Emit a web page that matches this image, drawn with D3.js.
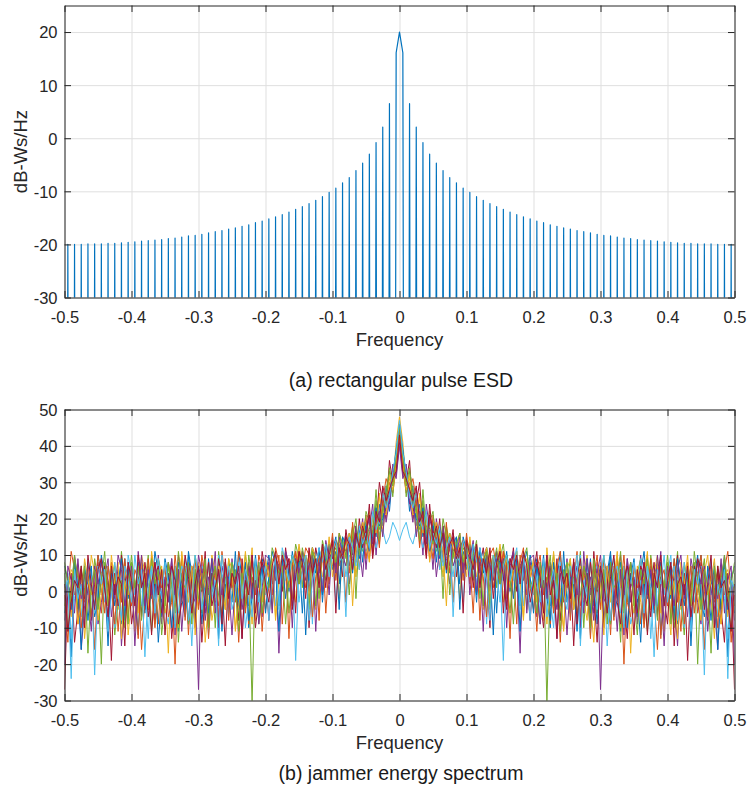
<!DOCTYPE html>
<html>
<head>
<meta charset="utf-8">
<script src="https://cdn.jsdelivr.net/npm/d3@7"></script>
<style>
  body { margin: 0; background: #fff; }
  svg { display: block; font-family: "Liberation Sans", Arial, Helvetica, sans-serif; }
</style>
</head>
<body>
<svg id="chart" width="748" height="790"></svg>
<script>
'use strict';

// Ticks
var xTicks = [-0.5, -0.4, -0.3, -0.2, -0.1, 0, 0.1, 0.2, 0.3, 0.4, 0.5];
var xTickLabels = ['-0.5', '-0.4', '-0.3', '-0.2', '-0.1', '0', '0.1', '0.2', '0.3', '0.4', '0.5'];
var esdTicks = [-30, -20, -10, 0, 10, 20];
var esdTickLabels = ['-30', '-20', '-10', '0', '10', '20'];
var jamTicks = [-30, -20, -10, 0, 10, 20, 30, 40, 50];
var jamTickLabels = ['-30', '-20', '-10', '0', '10', '20', '30', '40', '50'];

// Bins are k/200, k = 0..100 (one side, spectrum is symmetric)
// Rectangular pulse ESD, dB (nulls fall far below the axis)
var esdDb = [
  20.0, 16.1, -300, 6.5, -300, 2.1, -300, -0.8, -300, -3.0,
  -300, -4.7, -300, -6.1, -300, -7.4, -300, -8.4, -300, -9.4,
  -300, -10.2, -300, -11.0, -300, -11.7, -300, -12.3, -300, -12.9,
  -300, -13.4, -300, -13.9, -300, -14.4, -300, -14.8, -300, -15.2,
  -300, -15.6, -300, -15.9, -300, -16.3, -300, -16.6, -300, -16.9,
  -300, -17.1, -300, -17.4, -300, -17.6, -300, -17.8, -300, -18.1,
  -300, -18.3, -300, -18.4, -300, -18.6, -300, -18.8, -300, -18.9,
  -300, -19.1, -300, -19.2, -300, -19.3, -300, -19.4, -300, -19.5,
  -300, -19.6, -300, -19.7, -300, -19.8, -300, -19.8, -300, -19.9,
  -300, -19.9, -300, -19.9, -300, -20.0, -300, -20.0, -300, -20.0,
  -300
];

// Jammer energy spectra, dB
var jam01 = [45,37,33,22,29,18,24,15,21,12, 19,8,17,14,5,16,10,13,2,15, 11,6,13,-1,10,8,12,3,9,-6, 10,5,11,0,7,9,-4,8,4,10,
  4,9,-3,6,1,-10,7,3,11,-2, 5,-6,8,2,-13,6,0,9,-4,3, 7,-8,2,10,-3,5,-11,6,1,8, 3,-7,5,11,0,-5,4,8,-12,2, 6,-2,9,-9,4,1,7,-15,3,5, 10,-4,2,-8,6,3,-1,8,-18,4, -6];
var jam02 = [43,34,27,30,20,26,13,23,17,9, 21,15,6,18,11,14,-3,12,16,7, 13,2,10,12,-8,9,6,11,1,8, 4,11,-2,9,6,-9,10,3,7,1,
  -5,6,10,-1,4,-9,7,2,-14,5, 8,-3,3,11,-7,5,1,-10,6,2, -4,9,4,-12,7,0,5,-20,3,8, -2,6,-9,4,10,-5,3,7,-13,1, 5,-7,9,2,-11,4,8,-1,6,-6, 3,-16,5,7,-3,2,-9,6,11,-1, 2];
var jam03 = [48,41,29,31,25,16,27,20,11,22, 15,19,13,4,17,12,15,9,-2,14, 7,12,9,4,11,-5,8,10,6,2, 12,-3,8,5,11,2,7,-7,9,4,
  9,-2,5,-8,12,3,-5,7,1,-11, 6,-4,8,2,-9,5,10,-3,-14,4, 8,-1,-6,6,3,11,-10,4,7,-17, 2,6,-3,-9,9,1,5,10,-6,3, -2,-12,7,4,-5,8,3,-8,1,9, -4,5,10,-2,-13,6,2,8,-7,4, 6];
var jam04 = [41,32,35,25,19,28,21,10,24,17, 6,20,14,17,9,2,16,11,13,6, 15,-1,10,13,5,9,12,0,8,11, 3,9,-10,7,10,5,-17,9,2,8,
  3,-7,8,1,10,-4,6,-13,5,-1, 9,-5,2,7,-10,11,0,4,-6,8, -27,3,7,-9,5,-2,6,-12,9,1, 4,-3,10,-8,2,7,-5,3,11,-10, 2,8,-2,-15,6,1,-7,9,4,-3, -9,5,0,8,-4,-16,3,10,-1,2, -8];
var jam05 = [44,38,26,33,28,21,17,25,14,19, 22,11,16,-2,18,13,9,15,7,12, 10,14,3,11,8,-4,12,6,10,1, 9,13,4,-6,8,11,2,10,-5,7,
  7,-2,-9,8,-31,4,10,-3,-8,6, 2,9,-5,3,11,-10,5,-1,7,-6, 3,10,-2,-9,6,1,-14,7,-3,8, -4,5,9,-1,-11,10,2,-6,4,1, 8,-9,2,11,-3,-12,6,1,8,-20, 3,9,-7,4,-2,7,-5,10,1,-11, 5];
var jam06 = [14,17,19,15,13,17,16,12,15,14, 11,13,6,12,8,10,4,14,9,-3, 12,7,10,2,9,11,-9,8,5,10, 6,-19,9,7,3,10,5,-4,8,2,
  -1,6,-8,4,9,-2,-10,6,-3,3, 8,-7,1,5,10,-4,2,-12,5,7, -3,4,-15,2,9,-1,-6,7,3,-9, -5,2,9,-2,6,-13,3,-4,8,-1, 5,10,-6,4,-1,-10,2,7,-3,5, 2,-23,6,-1,8,-7,4,-2,-13,5, -4];
var jam07 = [42,35,30,36,22,24,30,18,9,21, 17,12,20,8,15,11,17,4,12,14, 9,13,1,11,7,12,5,-10,9,6, 11,-6,8,4,12,0,7,9,3,-8,
  5,11,-2,-10,3,7,-4,9,-8,4, 1,6,-15,3,9,-3,5,-9,11,0, 6,-10,2,8,-5,3,10,-3,-13,5, 2,-6,7,4,-12,1,8,-7,4,-2, -9,7,2,10,-4,5,-19,3,7,-1, 8,2,-8,4,-2,6,-5,-14,5,1, -27];
var jam08 = [46,39,32,27,24,20,18,23,15,11, 18,14,9,16,12,7,13,15,-5,11, 6,13,9,-3,12,5,10,7,-12,9, 8,3,10,6,-2,9,-11,7,11,4,
  -6,7,1,10,-2,-8,8,3,-5,11, -3,4,2,-11,7,-1,9,-6,3,-9, 7,1,5,11,-7,-2,8,2,-10,4, 9,-1,-14,6,-2,5,-6,3,8,-3, 1,6,-8,9,2,-4,5,-10,4,10, -2,-7,7,2,6,-16,1,8,-5,3, 7];
var jam09 = [44,36,31,28,31,25,12,20,18,16, 9,17,13,10,19,5,14,11,13,3, 16,8,-6,12,9,4,-7,10,12,6, 2,11,7,-13,9,5,8,12,-1,7,
  2,-11,6,-1,8,3,-6,7,11,-3, 5,-8,8,1,-4,7,2,-13,4,10, -5,6,-2,3,-8,9,1,10,-3,-7, 7,1,4,-10,0,9,-2,-16,3,6, -4,2,8,-3,5,-9,1,7,-6,4, 10,0,-7,6,1,-10,7,-1,3,-14, -1];
var jam10 = [43,35,28,32,21,22,26,16,21,8, 14,19,15,11,-4,16,12,8,14,10, 4,15,7,11,2,9,12,-3,10,7, 13,5,9,1,6,11,3,-8,8,4,
  8,-3,3,7,-9,1,11,2,-4,-10, 6,9,-5,2,7,-2,-8,8,1,5, 2,-12,7,-3,3,10,1,-9,6,-2, -6,7,1,4,11,-5,2,8,-4,-11, 6,-1,3,-13,8,2,10,-4,6,-1, -8,7,-1,3,9,-3,-9,4,6,0, -4];
var jam11 = [40,31,34,24,27,15,22,19,13,20, 16,4,12,18,10,14,7,10,15,5, 11,9,14,0,8,-11,10,7,3,11, 5,9,-4,8,11,2,6,10,-6,9,
  10,1,-9,3,-2,8,2,-5,7,3, -12,2,8,-1,6,-6,9,1,-8,5, 10,-2,-4,7,2,-11,6,-1,9,-3, 3,-9,2,8,-1,6,-4,10,1,-15, 7,2,-4,6,10,-2,3,-8,1,8, 2,7,-11,-1,5,-2,9,-6,3,7, -20];
var jam12 = [45,37,29,34,25,23,14,28,16,18, 13,17,10,20,15,-1,11,13,16,8, 12,5,10,14,-2,8,11,-5,7,12, 2,8,10,4,-9,7,5,9,12,1,
  4,-6,8,1,3,10,-4,5,-11,2, 8,-1,4,-6,-1,7,3,-10,9,1, -2,6,-9,8,1,3,11,-6,2,7, -3,-12,6,2,9,-2,3,-8,7,1, 10,1,-10,3,-2,7,2,-4,11,3, -5,6,2,-17,7,-1,4,9,-3,2, 8];
var jam13 = [47,38,33,26,23,27,20,17,22,12, 16,13,18,7,12,15,-7,10,8,14, 11,4,13,8,12,7,3,-8,10,6, -3,7,10,3,8,12,-5,9,5,-8,
  7,3,-3,9,-7,2,6,-2,8,-1, -5,7,2,10,-15,3,-2,7,1,-5, 4,10,-3,-8,5,7,-1,-10,6,2, 8,-2,3,-6,7,1,-18,6,2,10, -3,3,7,-8,-1,8,-1,-11,6,2, 7,-6,3,9,-9,2,-2,6,-24,3, 1];
var jam14 = [43,33,31,28,25,29,19,22,10,24, 14,18,12,16,6,13,15,9,12,-6, 14,10,6,13,1,9,5,12,-2,8, 11,4,-5,9,6,10,2,11,7,-3,
  2,8,4,-6,10,-1,3,-13,7,2, 5,-2,9,-9,6,1,-4,8,-1,-14, 7,2,-6,4,10,-3,-9,3,7,1, -12,6,-1,8,2,-7,5,1,10,-4, 3,8,-15,2,4,-1,7,-7,1,9, 6,-5,2,10,-10,7,1,3,-3,-11, 2];
var jammerSeries = [jam01, jam02, jam03, jam04, jam05, jam06, jam07, jam08, jam09, jam10, jam11, jam12, jam13, jam14];

// Colors (MATLAB default order)
var COLORS = ['#0072bd', '#d95319', '#edb120', '#7e2f8e', '#77ac30', '#4dbeee', '#a2142f'];
var AXIS_COLOR = '#262626';
var GRID_COLOR = '#dfdfdf';

// Layout
var left = 64.5;
var right = 734.5;
var tickLen = 6.5;

// One side k = 0..100 -> full k = -100..100
var mirror = function(arr) {
  return arr.slice(1).reverse().concat(arr);
};
var freq = d3.range(-100, 101).map(function(k) { return k / 200; });

var svg = d3.select('#chart');

var x = d3.scaleLinear().domain([-0.5, 0.5]).range([left, right]);

var drawPanel = function(opts) {
  var y = d3.scaleLinear().domain(opts.domain).range([opts.bottom, opts.top]);
  var g = svg.append('g');

  // Grid
  g.append('g')
    .attr('class', 'grid')
    .attr('transform', 'translate(0,' + opts.bottom + ')')
    .call(d3.axisBottom(x).tickValues(xTicks).tickSize(-(opts.bottom - opts.top)).tickFormat(''));
  g.append('g')
    .attr('class', 'grid')
    .attr('transform', 'translate(' + left + ',0)')
    .call(d3.axisLeft(y).tickValues(opts.ticks).tickSize(-(right - left)).tickFormat(''));
  g.selectAll('.grid .domain').remove();
  g.selectAll('.grid line').attr('stroke', GRID_COLOR);

  // Clip
  g.append('clipPath')
    .attr('id', opts.id + '-clip')
    .append('rect')
    .attr('x', left)
    .attr('y', opts.top)
    .attr('width', right - left)
    .attr('height', opts.bottom - opts.top);

  var line = d3.line()
    .x(function(d, i) { return x(freq[i]); })
    .y(function(d) { return y(d); });

  g.append('g')
    .attr('clip-path', 'url(#' + opts.id + '-clip)')
    .selectAll('path')
    .data(opts.series)
    .enter()
    .append('path')
    .attr('d', function(d) { return line(mirror(d)); })
    .attr('fill', 'none')
    .attr('stroke', function(d, i) { return COLORS[i % COLORS.length]; })
    .attr('stroke-width', opts.lineWidth)
    .attr('stroke-linejoin', 'round');

  // Axes: ticks inward on all four sides
  var axes = g.append('g').attr('class', 'axes');

  axes.append('g')
    .attr('transform', 'translate(0,' + opts.bottom + ')')
    .call(d3.axisBottom(x).tickValues(xTicks).tickSizeInner(-tickLen).tickSizeOuter(0)
      .tickFormat(function(d, i) { return xTickLabels[i]; }))
    .selectAll('text').attr('y', 25).attr('dy', null);

  axes.append('g')
    .attr('transform', 'translate(' + left + ',0)')
    .call(d3.axisLeft(y).tickValues(opts.ticks).tickSizeInner(-tickLen).tickSizeOuter(0)
      .tickFormat(function(d, i) { return opts.tickLabels[i]; }))
    .selectAll('text').attr('x', -7).attr('dy', '0.36em');

  axes.append('g')
    .attr('transform', 'translate(0,' + opts.top + ')')
    .call(d3.axisTop(x).tickValues(xTicks).tickSizeInner(-tickLen).tickSizeOuter(0).tickFormat(''));
  axes.append('g')
    .attr('transform', 'translate(' + right + ',0)')
    .call(d3.axisRight(y).tickValues(opts.ticks).tickSizeInner(-tickLen).tickSizeOuter(0).tickFormat(''));

  axes.selectAll('.domain, .tick line').attr('stroke', AXIS_COLOR);
  axes.selectAll('text')
    .attr('fill', AXIS_COLOR)
    .attr('font-family', null)
    .attr('font-size', '16.5px');

  // Axis labels
  g.append('text')
    .attr('x', (left + right) / 2)
    .attr('y', opts.bottom + 48)
    .attr('text-anchor', 'middle')
    .attr('font-size', '18.5px')
    .attr('fill', AXIS_COLOR)
    .text('Frequency');

  g.append('text')
    .attr('transform', 'translate(27,' + (opts.top + opts.bottom) / 2 + ') rotate(-90)')
    .attr('text-anchor', 'middle')
    .attr('font-size', '18.5px')
    .attr('fill', AXIS_COLOR)
    .text('dB-Ws/Hz');

  // Caption
  g.append('text')
    .attr('x', 401)
    .attr('y', opts.captionY)
    .attr('text-anchor', 'middle')
    .attr('font-size', '19.5px')
    .attr('fill', '#1a1a1a')
    .text(opts.caption);
};

drawPanel({
  id: 'esd',
  domain: [-30, 25],
  top: 5.5,
  bottom: 297.5,
  ticks: esdTicks,
  tickLabels: esdTickLabels,
  series: [esdDb],
  lineWidth: 1.2,
  caption: '(a) rectangular pulse ESD',
  captionY: 387
});

drawPanel({
  id: 'jam',
  domain: [-30, 50],
  top: 409.5,
  bottom: 700.5,
  ticks: jamTicks,
  tickLabels: jamTickLabels,
  series: jammerSeries,
  lineWidth: 1,
  caption: '(b) jammer energy spectrum',
  captionY: 780
});
</script>
</body>
</html>
